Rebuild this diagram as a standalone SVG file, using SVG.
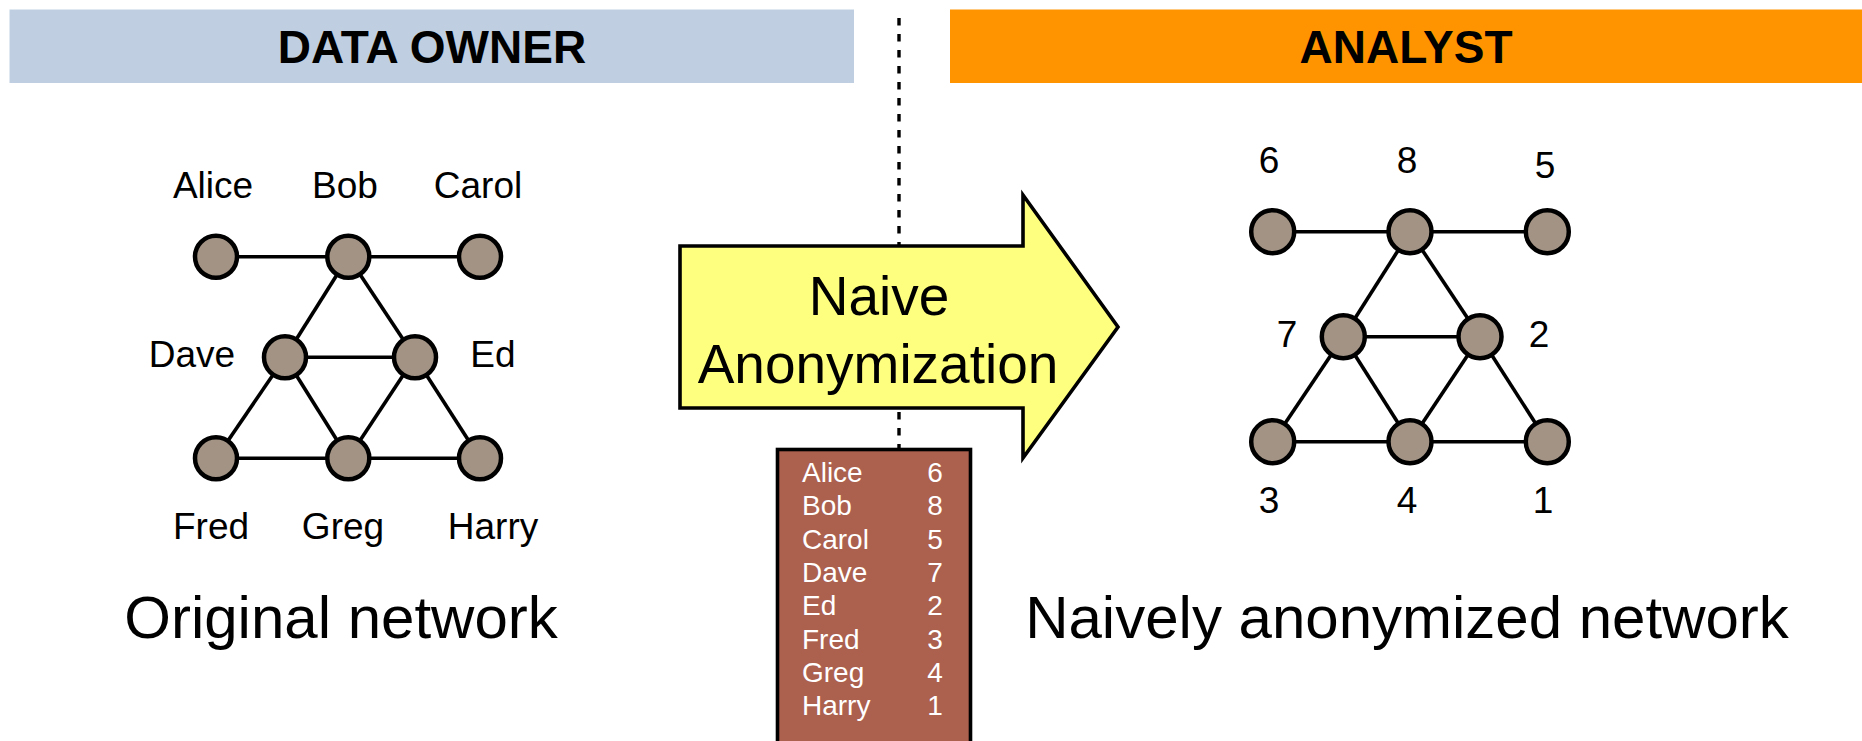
<svg xmlns="http://www.w3.org/2000/svg" width="1862" height="741" viewBox="0 0 1862 741">
  <style>
    text { font-family: "Liberation Sans", Arial, Helvetica, sans-serif; fill: #000; }
    .hdr { font-size: 46px; font-weight: bold; text-anchor: middle; }
    .lbl { font-size: 37px; text-anchor: middle; }
    .num { font-size: 37px; text-anchor: middle; }
    .cap { font-size: 60px; text-anchor: middle; }
    .arrowtxt { font-size: 55px; text-anchor: middle; }
    .tbl { font-size: 28px; fill: #fff; }
    .tnum { font-size: 28px; fill: #fff; text-anchor: middle; }
    .node { fill: #A29384; stroke: #000; stroke-width: 4.5; }
    .edge { stroke: #000; stroke-width: 3.6; fill: none; }
    .divider { stroke: #000; stroke-width: 3.4; stroke-dasharray: 7.5 8.5; fill: none; }
  </style>

  <rect width="1862" height="741" fill="#fff"/>

  <!-- role banners -->
  <g id="banner-owner">
    <rect x="9.5" y="9.5" width="844.5" height="73.5" fill="#BFCFE1"/>
    <text class="hdr" x="432" y="63">DATA OWNER</text>
  </g>
  <g id="banner-analyst">
    <rect x="950" y="9.5" width="912" height="73.5" fill="#FF9400"/>
    <text class="hdr" x="1406" y="63">ANALYST</text>
  </g>

  <!-- dashed divider between the two parties -->
  <g id="divider">
    <line class="divider" x1="899" y1="18" x2="899" y2="246"/>
    <line class="divider" x1="899" y1="412" x2="899" y2="448"/>
  </g>

  <!-- connectors -->
  <g id="connectors">
    <!-- original network -->
    <line class="edge" x1="216" y1="256.7" x2="348.3" y2="256.7"/>
    <line class="edge" x1="348.3" y1="256.7" x2="480" y2="256.7"/>
    <line class="edge" x1="348.3" y1="256.7" x2="285" y2="357.3"/>
    <line class="edge" x1="348.3" y1="256.7" x2="415" y2="357.3"/>
    <line class="edge" x1="285" y1="357.3" x2="415" y2="357.3"/>
    <line class="edge" x1="285" y1="357.3" x2="216" y2="458.3"/>
    <line class="edge" x1="285" y1="357.3" x2="348.3" y2="458.3"/>
    <line class="edge" x1="415" y1="357.3" x2="348.3" y2="458.3"/>
    <line class="edge" x1="415" y1="357.3" x2="480" y2="458.3"/>
    <line class="edge" x1="216" y1="458.3" x2="348.3" y2="458.3"/>
    <line class="edge" x1="348.3" y1="458.3" x2="480" y2="458.3"/>
    <!-- anonymized network -->
    <line class="edge" x1="1272.7" y1="231.7" x2="1410" y2="231.7"/>
    <line class="edge" x1="1410" y1="231.7" x2="1547.3" y2="231.7"/>
    <line class="edge" x1="1410" y1="231.7" x2="1343.3" y2="336.7"/>
    <line class="edge" x1="1410" y1="231.7" x2="1480" y2="336.7"/>
    <line class="edge" x1="1343.3" y1="336.7" x2="1480" y2="336.7"/>
    <line class="edge" x1="1343.3" y1="336.7" x2="1272.7" y2="441.7"/>
    <line class="edge" x1="1343.3" y1="336.7" x2="1410" y2="441.7"/>
    <line class="edge" x1="1480" y1="336.7" x2="1410" y2="441.7"/>
    <line class="edge" x1="1480" y1="336.7" x2="1547.3" y2="441.7"/>
    <line class="edge" x1="1272.7" y1="441.7" x2="1410" y2="441.7"/>
    <line class="edge" x1="1410" y1="441.7" x2="1547.3" y2="441.7"/>
  </g>

  <!-- original network nodes -->
  <g id="node-alice"><circle class="node" cx="216" cy="256.7" r="21"/><text class="lbl" x="213" y="198">Alice</text></g>
  <g id="node-bob"><circle class="node" cx="348.3" cy="256.7" r="21"/><text class="lbl" x="345" y="198">Bob</text></g>
  <g id="node-carol"><circle class="node" cx="480" cy="256.7" r="21"/><text class="lbl" x="478" y="198">Carol</text></g>
  <g id="node-dave"><circle class="node" cx="285" cy="357.3" r="21"/><text class="lbl" x="192" y="367">Dave</text></g>
  <g id="node-ed"><circle class="node" cx="415" cy="357.3" r="21"/><text class="lbl" x="493" y="367">Ed</text></g>
  <g id="node-fred"><circle class="node" cx="216" cy="458.3" r="21"/><text class="lbl" x="211" y="539">Fred</text></g>
  <g id="node-greg"><circle class="node" cx="348.3" cy="458.3" r="21"/><text class="lbl" x="343" y="539">Greg</text></g>
  <g id="node-harry"><circle class="node" cx="480" cy="458.3" r="21"/><text class="lbl" x="493" y="539">Harry</text></g>

  <!-- anonymized network nodes -->
  <g id="node-6"><circle class="node" cx="1272.7" cy="231.7" r="21.5"/><text class="num" x="1269" y="173">6</text></g>
  <g id="node-8"><circle class="node" cx="1410" cy="231.7" r="21.5"/><text class="num" x="1407" y="173">8</text></g>
  <g id="node-5"><circle class="node" cx="1547.3" cy="231.7" r="21.5"/><text class="num" x="1545" y="178">5</text></g>
  <g id="node-7"><circle class="node" cx="1343.3" cy="336.7" r="21.5"/><text class="num" x="1287" y="347">7</text></g>
  <g id="node-2"><circle class="node" cx="1480" cy="336.7" r="21.5"/><text class="num" x="1539" y="347">2</text></g>
  <g id="node-3"><circle class="node" cx="1272.7" cy="441.7" r="21.5"/><text class="num" x="1269" y="513">3</text></g>
  <g id="node-4"><circle class="node" cx="1410" cy="441.7" r="21.5"/><text class="num" x="1407" y="513">4</text></g>
  <g id="node-1"><circle class="node" cx="1547.3" cy="441.7" r="21.5"/><text class="num" x="1543" y="513">1</text></g>

  <!-- process arrow -->
  <g id="arrow-anonymization">
    <polygon points="680,246 1023,246 1023,195 1118,327 1023,458 1023,408 680,408" fill="#FFFF7F" stroke="#000" stroke-width="3.6" stroke-linejoin="miter"/>
    <text class="arrowtxt" x="879" y="315">Naive</text>
    <text class="arrowtxt" x="878" y="383">Anonymization</text>
  </g>

  <!-- name-to-id mapping table -->
  <g id="mapping-table">
    <rect x="777.5" y="449.5" width="193" height="300" fill="#AC604E" stroke="#000" stroke-width="3.6"/>
    <text class="tbl" x="802" y="482">Alice</text><text class="tnum" x="935" y="482">6</text>
    <text class="tbl" x="802" y="515.3">Bob</text><text class="tnum" x="935" y="515.3">8</text>
    <text class="tbl" x="802" y="548.6">Carol</text><text class="tnum" x="935" y="548.6">5</text>
    <text class="tbl" x="802" y="581.9">Dave</text><text class="tnum" x="935" y="581.9">7</text>
    <text class="tbl" x="802" y="615.2">Ed</text><text class="tnum" x="935" y="615.2">2</text>
    <text class="tbl" x="802" y="648.5">Fred</text><text class="tnum" x="935" y="648.5">3</text>
    <text class="tbl" x="802" y="681.8">Greg</text><text class="tnum" x="935" y="681.8">4</text>
    <text class="tbl" x="802" y="715.1">Harry</text><text class="tnum" x="935" y="715.1">1</text>
  </g>

  <!-- captions -->
  <g id="caption-original"><text class="cap" x="341" y="638">Original network</text></g>
  <g id="caption-anonymized"><text class="cap" x="1407" y="638">Naively anonymized network</text></g>
</svg>
